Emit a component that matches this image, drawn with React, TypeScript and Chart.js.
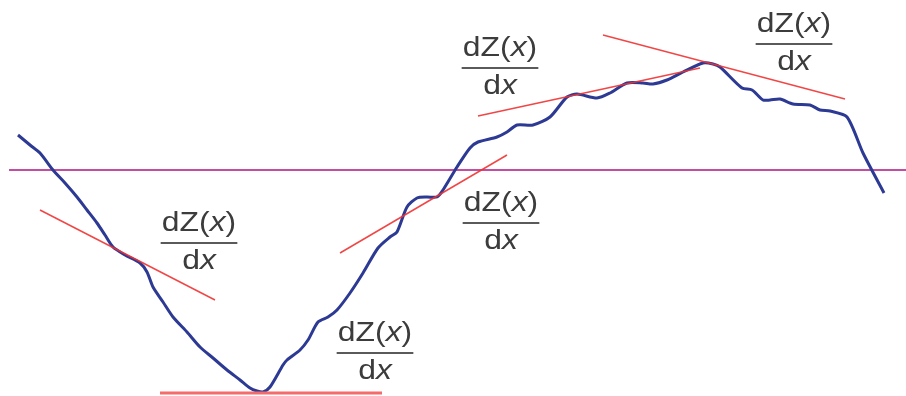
import React, { useEffect, useRef } from "react";
import { Chart, registerables } from "chart.js";

Chart.register(...registerables);

// Horizontal position (x) and height Z(x) relative to the reference (zero) line
const curveX = [18, 30, 40, 53, 65, 77, 87, 97, 105, 113, 125, 140, 147, 153, 163, 173, 187, 200, 213, 227, 240, 250, 257, 263, 270, 283, 287, 300, 308, 318, 328, 337, 350, 363, 378, 390, 397, 407, 417, 427, 437, 443, 457, 470, 478, 497, 507, 517, 533, 550, 567, 577, 597, 610, 627, 643, 653, 667, 683, 703, 713, 720, 742, 752, 763, 770, 780, 793, 810, 820, 830, 847, 863, 884];
const curveZ = [35, 25, 17, 0, -13, -27, -40, -53, -65, -77, -85, -93, -102, -117, -132, -147, -162, -177, -188, -200, -210, -218, -221, -222, -217, -195, -190, -180, -170, -152, -147, -140, -123, -103, -78, -67, -62, -37, -28, -27, -27, -20, 3, 22, 28, 33, 38, 45, 45, 53, 73, 76, 72, 77, 87, 87, 86, 90, 98, 107, 106, 103, 82, 80, 70, 70, 71, 66, 65, 60, 59, 53, 17, -23];

// Reference (zero) line
const zeroLineX = [9, 906];
const zeroLineZ = [0, 0];

// Tangent lines: [x1, z1, x2, z2]
const tangentLines = [
  [40, -40, 215, -130],
  [340, -83, 507, 15],
  [478, 54, 700, 102],
  [603, 135, 845, 71],
];
// Horizontal tangent at the minimum
const minTangent = [160, -223, 382, -223];

// Derivative labels anchored at their fraction bar (x, Z)
const labelX = [199, 375, 501, 500, 794];
const labelZ = [-73, -183, -53, 102, 126];

const xMin = 0;
const xMax = 906;
const zMin = -226;
const zMax = 170;

const FONT = '"Liberation Sans", Arial, Helvetica, sans-serif';

const fractionPlugin = {
  id: "fractionLabels",
  afterDatasetsDraw(chart: any) {
    const ctx = chart.ctx as CanvasRenderingContext2D;
    const xs = chart.scales.x;
    const ys = chart.scales.y;
    const size = 27;
    const sx = 1.18;
    const upright = `${size}px ${FONT}`;
    const italic = `italic ${size}px ${FONT}`;
    const drawParts = (parts: [string, boolean][], baseline: number) => {
      let total = 0;
      const widths = parts.map(([t, it]) => {
        ctx.font = it ? italic : upright;
        const w = ctx.measureText(t).width;
        total += w;
        return w;
      });
      let cx = -total / 2;
      parts.forEach(([t, it], i) => {
        ctx.font = it ? italic : upright;
        ctx.fillText(t, cx, baseline);
        cx += widths[i];
      });
      return total;
    };
    labelX.forEach((lx, i) => {
      const px = xs.getPixelForValue(lx);
      const py = ys.getPixelForValue(labelZ[i]);
      ctx.save();
      ctx.translate(px, py);
      ctx.scale(sx, 1);
      ctx.fillStyle = "#3c3c3c";
      ctx.textAlign = "left";
      ctx.textBaseline = "alphabetic";
      const numW = drawParts(
        [
          ["dZ(", false],
          ["x", true],
          [")", false],
        ],
        -12
      );
      drawParts(
        [
          ["d", false],
          ["x", true],
        ],
        26
      );
      ctx.fillStyle = "#5a5a5a";
      ctx.fillRect(-numW / 2 - 1, -1, numW + 2, 2);
      ctx.restore();
    });
  },
};

export default function App() {
  const canvasRef = useRef<HTMLCanvasElement | null>(null);

  useEffect(() => {
    document.body.style.margin = "0";
    const canvas = canvasRef.current;
    if (!canvas) return;

    const curve = curveX.map((x, i) => ({ x, y: curveZ[i] }));
    const zero = zeroLineX.map((x, i) => ({ x, y: zeroLineZ[i] }));

    const tangentSets = tangentLines.map((t) => ({
      data: [
        { x: t[0], y: t[1] },
        { x: t[2], y: t[3] },
      ],
      borderColor: "rgba(240, 50, 50, 0.9)",
      borderWidth: 1.5,
      pointRadius: 0,
      tension: 0,
      order: 1,
    }));

    const chart = new Chart(canvas, {
      type: "line",
      data: {
        datasets: [
          ...tangentSets,
          {
            data: [
              { x: minTangent[0], y: minTangent[1] },
              { x: minTangent[2], y: minTangent[3] },
            ],
            borderColor: "#f56a6a",
            borderWidth: 3,
            pointRadius: 0,
            tension: 0,
            order: 1,
          },
          {
            data: curve,
            borderColor: "#2d3a94",
            borderWidth: 3,
            pointRadius: 0,
            tension: 0.25,
            order: 2,
          },
          {
            data: zero,
            borderColor: "#c34da3",
            borderWidth: 2,
            pointRadius: 0,
            tension: 0,
            order: 3,
          },
        ] as any,
      },
      options: {
        animation: false,
        responsive: false,
        maintainAspectRatio: false,
        devicePixelRatio: 1,
        layout: { padding: 0 },
        events: [],
        plugins: {
          legend: { display: false },
          tooltip: { enabled: false },
        },
        scales: {
          x: { type: "linear", min: xMin, max: xMax, display: false },
          y: { type: "linear", min: zMin, max: zMax, display: false },
        },
      },
      plugins: [fractionPlugin],
    });

    return () => {
      chart.destroy();
    };
  }, []);

  return (
    <div style={{ position: "absolute", left: 0, top: 0, width: 906, height: 396, background: "#fff" }}>
      <canvas ref={canvasRef} width={906} height={396} />
    </div>
  );
}
